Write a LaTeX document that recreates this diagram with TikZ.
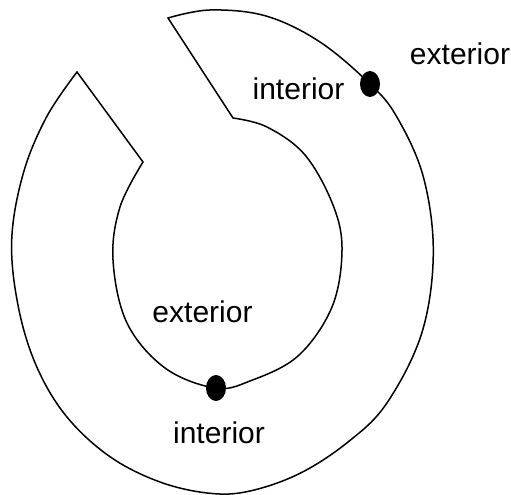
\documentclass[tikz,border=0pt]{standalone}
\usepackage{fontspec}
\setmainfont{Liberation Sans}
\usetikzlibrary{shapes.geometric}
\begin{document}
\begin{tikzpicture}[x=1bp,y=-1bp,
  curve/.style={line width=1.5bp,line join=miter},
  dotnode/.style={ellipse,fill=black,minimum width=20bp,minimum height=26bp,inner sep=0pt},
  lbl/.style={anchor=base,inner sep=0pt,font=\fontsize{30bp}{30bp}\selectfont}]
\useasboundingbox (0,0) rectangle (511,495);
\draw[curve] plot[smooth,tension=0.6] coordinates {
  (77,72) (46.7,116.7) (23.3,173.3) (11.7,240)
  (18.3,306.7) (36.7,366.7) (66.7,416.7)
  (110,456.7) (160,482) (210,493.3) (250,491)
  (300,473.3) (348,442) (386.7,403.3)
  (421.7,333.3) (433.3,253.3) (423.3,176.7)
  (396.7,116.7) (370,84) (320,42) (266,16)
  (210,10) (168,18)}
  -- plot[smooth,tension=0.6] coordinates {
  (233,118) (267,127) (305,155) (333,205) (342,250)
  (332,307) (298,356) (250,381) (215,388)
  (165,368) (127,323) (113,260) (120,207) (143,162)}
  -- cycle;
\node[dotnode] (d1) at (370,84) {};
\node[dotnode] (d2) at (216,388) {};
\node[lbl] (ext1) at (460,65) {exterior};
\node[lbl] (int1) at (298.5,100) {interior};
\node[lbl] (ext2) at (202.5,322) {exterior};
\node[lbl] (int2) at (219,443) {interior};
\end{tikzpicture}
\end{document}
